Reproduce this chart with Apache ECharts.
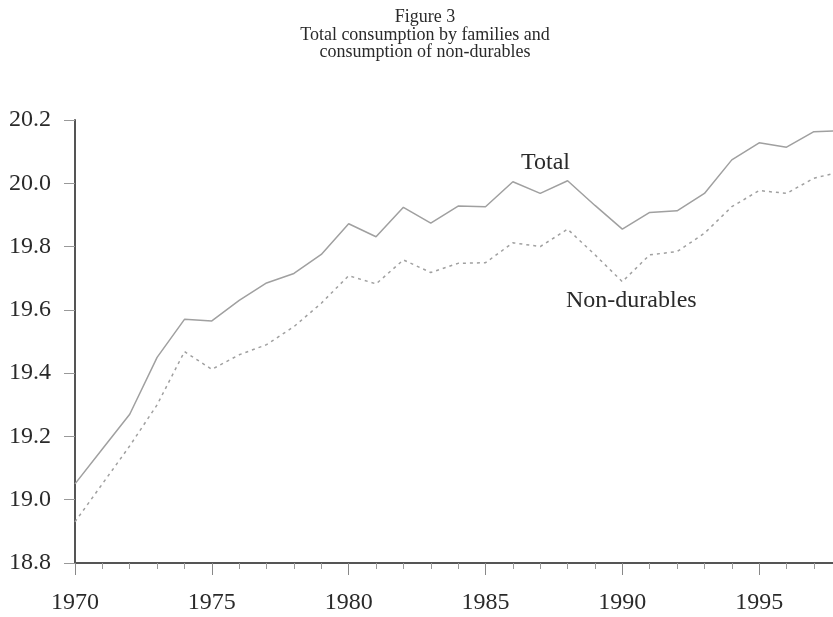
<!DOCTYPE html>
<html>
<head>
<meta charset="utf-8">
<script src="https://cdn.jsdelivr.net/npm/echarts@6/dist/echarts.min.js"></script>
<style>
  html, body { margin: 0; padding: 0; background: #fff; }
  #main { width: 833px; height: 617px; }
</style>
</head>
<body>
<div id="main"></div>
<script>
  var years = [1970, 1971, 1972, 1973, 1974, 1975, 1976, 1977, 1978, 1979,
               1980, 1981, 1982, 1983, 1984, 1985, 1986, 1987, 1988, 1989,
               1990, 1991, 1992, 1993, 1994, 1995, 1996, 1997, 1998];
  var total = [19.05, 19.16, 19.27, 19.45, 19.57, 19.565, 19.63, 19.685, 19.715, 19.775,
               19.872, 19.831, 19.924, 19.874, 19.928, 19.926, 20.005, 19.968, 20.008, 19.93,
               19.855, 19.908, 19.913, 19.968, 20.074, 20.128, 20.114, 20.163, 20.166];
  var nonDurables = [18.93, 19.05, 19.17, 19.30, 19.468, 19.412, 19.458, 19.49, 19.547, 19.621,
                     19.708, 19.682, 19.758, 19.718, 19.747, 19.749, 19.812, 19.80, 19.855, 19.774,
                     19.689, 19.774, 19.784, 19.842, 19.926, 19.977, 19.968, 20.016, 20.037];
  var titleLines = ['Figure 3', 'Total consumption by families and', 'consumption of non-durables'];

  var font = '"Liberation Serif", "DejaVu Serif", serif';
  var myChart = echarts.init(document.getElementById('main'));

  function pairs(vals) {
    return years.map(function (y, i) { return [y, vals[i]]; });
  }

  var option = {
    backgroundColor: '#fff',
    animation: false,
    title: {
      text: titleLines.join('\n'),
      left: 420,
      top: 4,
      textAlign: 'center',
      textStyle: {
        fontFamily: font,
        fontSize: 18,
        fontWeight: 'normal',
        color: '#2a2a2a',
        lineHeight: 17.5
      }
    },
    // axis runs past the right edge (picture is cropped there)
    grid: { left: 75, top: 120, width: 821, height: 443, outerBoundsMode: 'none', containLabel: false },
    xAxis: {
      type: 'value',
      min: 1970,
      max: 2000,
      interval: 5,
      axisLine: { lineStyle: { color: '#555', width: 2 } },
      axisTick: { show: true, length: 12, lineStyle: { color: '#888' } },
      minorTick: { show: true, splitNumber: 5, length: 6, lineStyle: { color: '#999' } },
      splitLine: { show: false },
      axisLabel: {
        margin: 28,
        fontFamily: font,
        fontSize: 24,
        color: '#2a2a2a',
        formatter: function (v) { return String(v); }
      }
    },
    yAxis: {
      type: 'value',
      min: 18.8,
      max: 20.2,
      interval: 0.2,
      axisLine: { show: true, lineStyle: { color: '#555', width: 2 } },
      axisTick: { show: true, length: 11, lineStyle: { color: '#999' } },
      splitLine: { show: false },
      axisLabel: {
        margin: 24,
        fontFamily: font,
        fontSize: 24,
        color: '#2a2a2a',
        formatter: function (v) { return v.toFixed(1); }
      }
    },
    graphic: [
      { type: 'text', left: 521, top: 151,
        style: { text: 'Total', font: '24px ' + font, fill: '#2a2a2a' } },
      { type: 'text', left: 566, top: 289,
        style: { text: 'Non-durables', font: '24px ' + font, fill: '#2a2a2a' } }
    ],
    series: [
      {
        name: 'Total',
        type: 'line',
        data: pairs(total),
        showSymbol: false,
        lineStyle: { color: '#a0a0a0', width: 1.5 }
      },
      {
        name: 'Non-durables',
        type: 'line',
        data: pairs(nonDurables),
        showSymbol: false,
        lineStyle: { color: '#a0a0a0', width: 1.5, type: [3, 4] }
      }
    ]
  };
  myChart.setOption(option);
</script>
</body>
</html>
